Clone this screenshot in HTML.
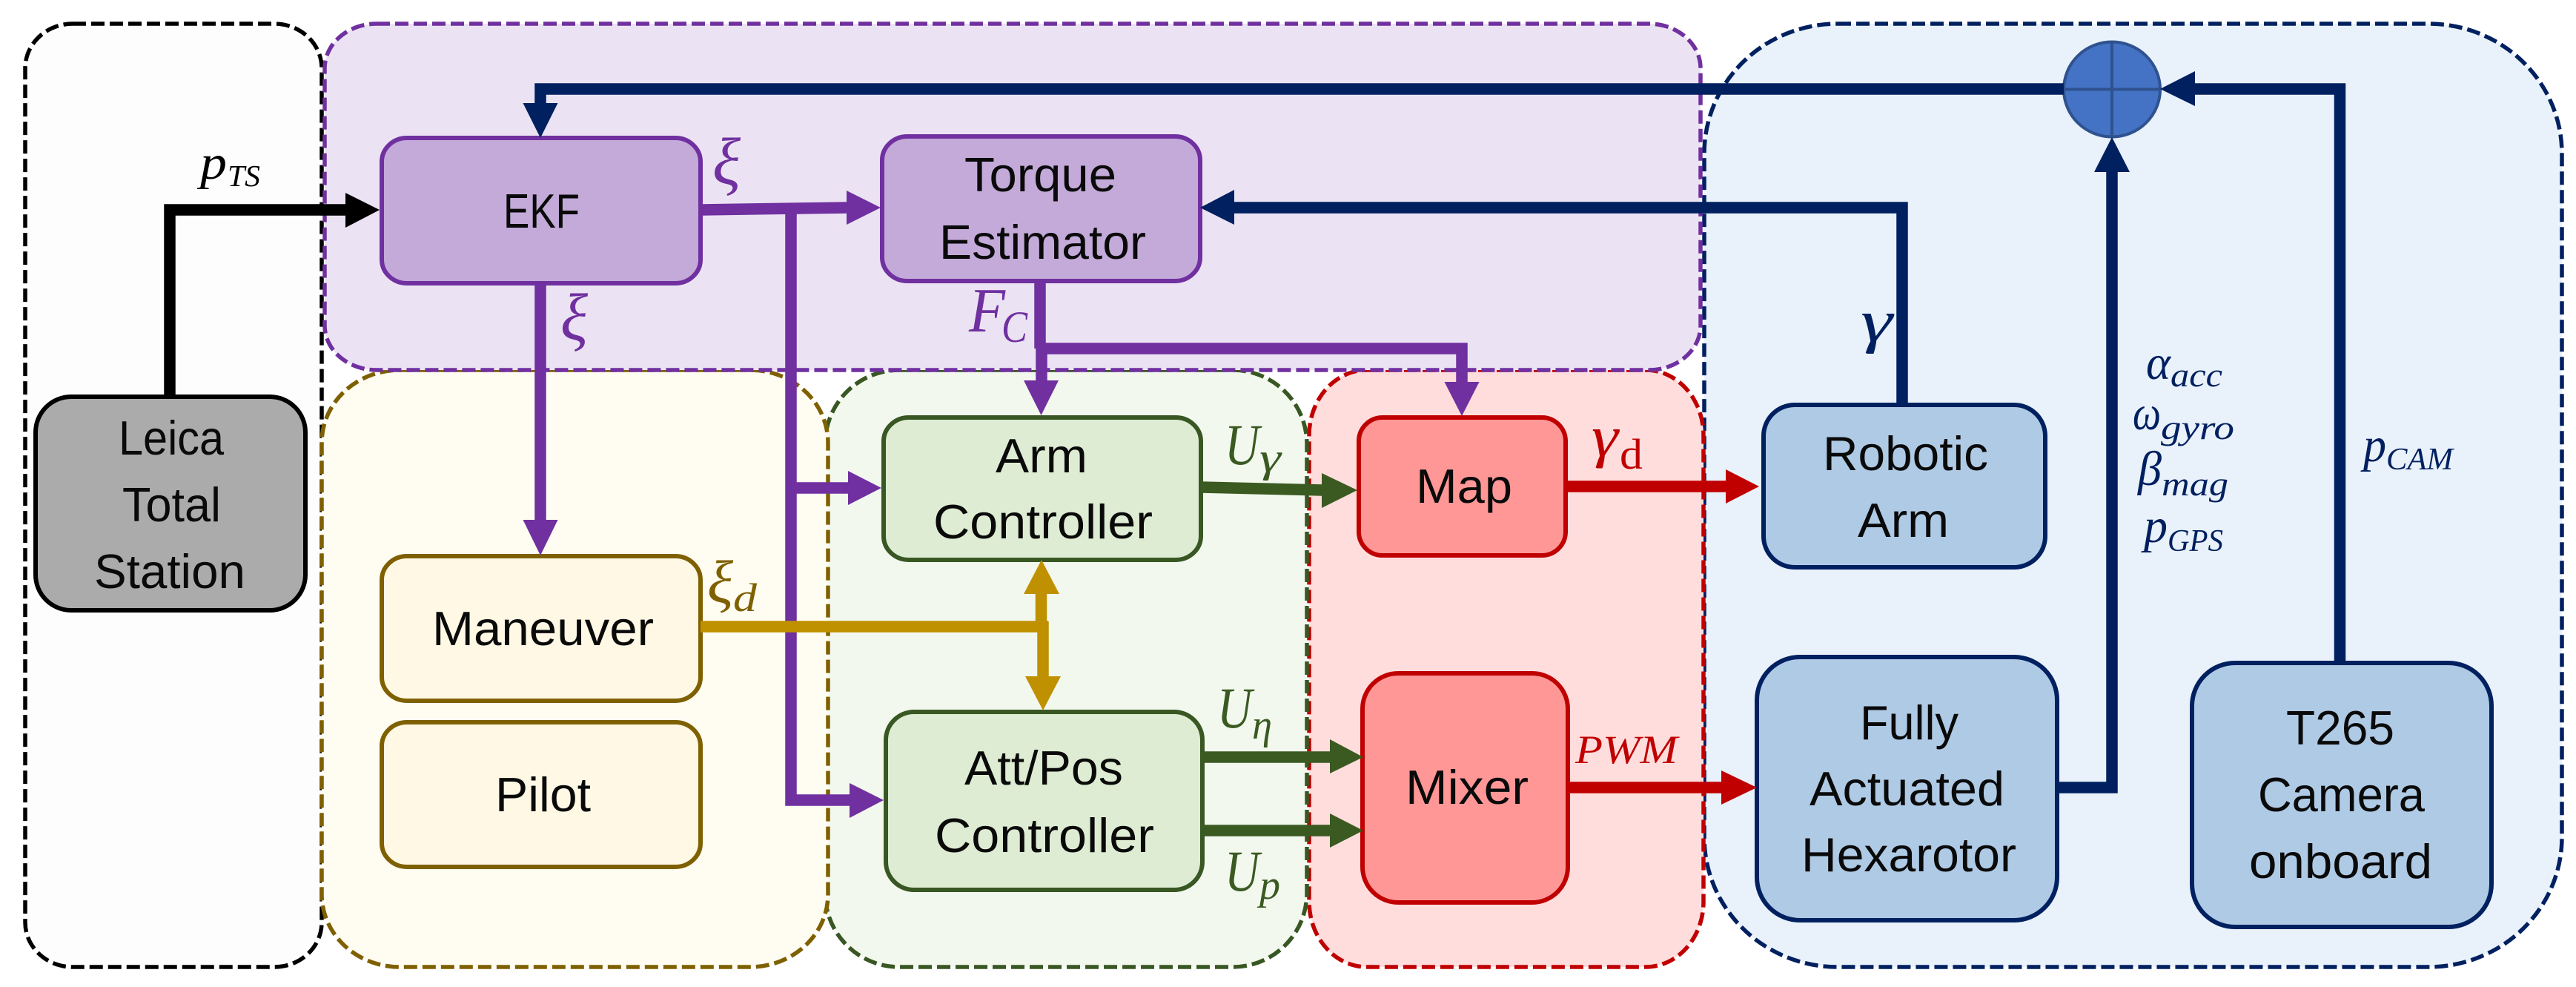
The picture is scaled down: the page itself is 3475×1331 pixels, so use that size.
<!DOCTYPE html>
<html lang="en"><head><meta charset="utf-8"><title>Control architecture diagram</title>
<style>
html,body{margin:0;padding:0;background:#fff}
svg{display:block}
.t{font-family:"Liberation Sans",sans-serif;font-size:65px;fill:#0a0a0a}
.m{font-family:"Liberation Serif",serif;font-style:italic}
.g{stroke-width:5.5;stroke-dasharray:18 7}
.b{stroke-width:6}
</style></head><body>
<svg xmlns="http://www.w3.org/2000/svg" width="3475" height="1331" viewBox="0 0 3475 1331">
<!-- groups -->
<rect class="g" x="34" y="32" width="400" height="1272" rx="64" ry="60" fill="#fdfdfd" stroke="#000"/>
<rect class="g" x="2299" y="32" width="1157" height="1272" rx="180" ry="175" fill="#e9f1fa" stroke="#002060"/>
<rect class="g" x="1766" y="499" width="532" height="805" rx="78" ry="88" fill="#ffdddd" stroke="#c00000"/>
<rect class="g" x="1113" y="499" width="650" height="805" rx="100" ry="100" fill="#f3f8ee" stroke="#385723"/>
<rect class="g" x="434" y="499" width="683" height="805" rx="105" ry="98" fill="#fffdf2" stroke="#7f6000"/>
<rect class="g" x="438" y="32" width="1856" height="467" rx="70" ry="60" fill="#ebe3f3" stroke="#7030a0"/>
<!-- boxes -->
<rect class="b" x="48" y="535" width="364" height="288" rx="48" ry="48" fill="#ababab" stroke="#000" stroke-width="7"/>
<rect class="b" x="515" y="186" width="430" height="196" rx="34" ry="32" fill="#c3aad9" stroke="#7030a0"/>
<rect class="b" x="1190" y="184" width="429" height="195" rx="34" ry="32" fill="#c3aad9" stroke="#7030a0"/>
<rect class="b" x="515" y="750" width="430" height="195" rx="34" ry="32" fill="#fff8e5" stroke="#7f6000"/>
<rect class="b" x="515" y="974" width="430" height="195" rx="34" ry="32" fill="#fff8e5" stroke="#7f6000"/>
<rect class="b" x="1192" y="563" width="428" height="192" rx="34" ry="32" fill="#ddecd3" stroke="#385723"/>
<rect class="b" x="1195" y="960" width="427" height="240" rx="38" ry="38" fill="#ddecd3" stroke="#385723"/>
<rect class="b" x="1833" y="563" width="279" height="186" rx="32" ry="32" fill="#ff9797" stroke="#c00000"/>
<rect class="b" x="1838" y="908" width="277" height="309" rx="48" ry="48" fill="#ff9797" stroke="#c00000"/>
<rect class="b" x="2379" y="546" width="380" height="219" rx="42" ry="42" fill="#afcae5" stroke="#002060"/>
<rect class="b" x="2370" y="886" width="405" height="355" rx="58" ry="58" fill="#afcae5" stroke="#002060"/>
<rect class="b" x="2957" y="894" width="404" height="356" rx="58" ry="58" fill="#afcae5" stroke="#002060"/>
<!-- summing junction -->
<ellipse cx="2849" cy="120.5" rx="65" ry="64" fill="#4472c4" stroke="#2f528f" stroke-width="4"/>
<path d="M2849 57V184M2784 120.5H2914" stroke="#2f528f" stroke-width="4" fill="none"/>
<!-- connectors -->
<g fill="none" stroke-width="15.5">
<path d="M229 535V283H468" stroke="#000"/>
<path d="M2784 120H729V140" stroke="#002060"/>
<path d="M2957 120H3156.5V894" stroke="#002060"/>
<path d="M2775 1062H2849V230" stroke="#002060"/>
<path d="M2566 546V280H1663" stroke="#002060"/>
<path d="M945 283L1144 280" stroke="#7030a0"/>
<path d="M1067 283V1079H1148" stroke="#7030a0"/>
<path d="M1067 658H1146" stroke="#7030a0"/>
<path d="M729 382V703" stroke="#7030a0"/>
<path d="M1403 379V470M1405 470V515" stroke="#7030a0"/>
<path d="M1403 470H1972V517" stroke="#7030a0"/>
<path d="M1620 657L1785 661" stroke="#3a5a22"/>
<path d="M1619 1021H1796" stroke="#3a5a22"/>
<path d="M1619 1120H1796" stroke="#3a5a22"/>
<path d="M945 845H1414" stroke="#bf9000"/>
<path d="M1404.5 845V799" stroke="#bf9000"/>
<path d="M1407 838V914" stroke="#bf9000"/>
<path d="M2112 656H2330" stroke="#c00000"/>
<path d="M2115 1062H2324" stroke="#c00000"/>
</g>
<!-- arrowheads -->
<polygon fill="#000" points="466,260 512,283 466,307" />
<polygon fill="#002060" points="705.5,139 752.5,139 729,186"/>
<polygon fill="#002060" points="2961,96 2961,143 2914,120"/>
<polygon fill="#002060" points="2825,232 2873,232 2849,185"/>
<polygon fill="#002060" points="1665,256 1665,303 1619,280"/>
<polygon fill="#7030a0" points="1142,257 1142,303 1188,280"/>
<polygon fill="#7030a0" points="1144,635 1144,681 1189,658"/>
<polygon fill="#7030a0" points="1146,1056 1146,1103 1192,1079"/>
<polygon fill="#7030a0" points="705.5,701 752.5,701 729,749"/>
<polygon fill="#7030a0" points="1381,513 1428,513 1404.5,560"/>
<polygon fill="#7030a0" points="1948.5,515 1995.5,515 1972,561"/>
<polygon fill="#3a5a22" points="1783,638 1783,685 1831,661"/>
<polygon fill="#3a5a22" points="1794,997 1794,1043 1839,1021"/>
<polygon fill="#3a5a22" points="1794,1097 1794,1143 1839,1120"/>
<polygon fill="#bf9000" points="1381,801 1429,801 1405,755"/>
<polygon fill="#bf9000" points="1383,912 1431,912 1407,958"/>
<polygon fill="#c00000" points="2328,633 2328,679 2373,656"/>
<polygon fill="#c00000" points="2322,1039 2322,1085 2370,1062"/>
<!-- box labels -->
<text class="t" x="679" y="307" textLength="103" lengthAdjust="spacingAndGlyphs">EKF</text>
<text class="t" x="160" y="613" textLength="142" lengthAdjust="spacingAndGlyphs">Leica</text>
<text class="t" x="165" y="703" textLength="133" lengthAdjust="spacingAndGlyphs">Total</text>
<text class="t" x="127" y="793" textLength="204" lengthAdjust="spacingAndGlyphs">Station</text>
<text class="t" x="1301" y="258" textLength="205" lengthAdjust="spacingAndGlyphs">Torque</text>
<text class="t" x="1267" y="349" textLength="279" lengthAdjust="spacingAndGlyphs">Estimator</text>
<text class="t" x="1343" y="637" textLength="124" lengthAdjust="spacingAndGlyphs">Arm</text>
<text class="t" x="1259" y="726" textLength="296" lengthAdjust="spacingAndGlyphs">Controller</text>
<text class="t" x="1910" y="678" textLength="130" lengthAdjust="spacingAndGlyphs">Map</text>
<text class="t" x="1301" y="1058" textLength="214" lengthAdjust="spacingAndGlyphs">Att/Pos</text>
<text class="t" x="1261" y="1149" textLength="296" lengthAdjust="spacingAndGlyphs">Controller</text>
<text class="t" x="1896" y="1084" textLength="166" lengthAdjust="spacingAndGlyphs">Mixer</text>
<text class="t" x="583" y="870" textLength="299" lengthAdjust="spacingAndGlyphs">Maneuver</text>
<text class="t" x="668" y="1094" textLength="129" lengthAdjust="spacingAndGlyphs">Pilot</text>
<text class="t" x="2459" y="634" textLength="223" lengthAdjust="spacingAndGlyphs">Robotic</text>
<text class="t" x="2506" y="724" textLength="123" lengthAdjust="spacingAndGlyphs">Arm</text>
<text class="t" x="2509" y="997" textLength="133" lengthAdjust="spacingAndGlyphs">Fully</text>
<text class="t" x="2441" y="1086" textLength="263" lengthAdjust="spacingAndGlyphs">Actuated</text>
<text class="t" x="2430" y="1175" textLength="290" lengthAdjust="spacingAndGlyphs">Hexarotor</text>
<text class="t" x="3084" y="1004" textLength="146" lengthAdjust="spacingAndGlyphs">T265</text>
<text class="t" x="3046" y="1094" textLength="225" lengthAdjust="spacingAndGlyphs">Camera</text>
<text class="t" x="3034" y="1184" textLength="247" lengthAdjust="spacingAndGlyphs">onboard</text>
<!-- math labels -->
<g class="m">
<text x="270" y="241" font-size="66" fill="#000" textLength="36" lengthAdjust="spacingAndGlyphs">p</text>
<text x="307" y="251" font-size="41" fill="#000" textLength="44" lengthAdjust="spacingAndGlyphs">TS</text>
<text x="961" y="248" font-size="90" fill="#7030a0" textLength="38" lengthAdjust="spacingAndGlyphs">ξ</text>
<text x="756" y="458" font-size="90" fill="#7030a0" textLength="37" lengthAdjust="spacingAndGlyphs">ξ</text>
<text x="954" y="812" font-size="82" fill="#7f6000" textLength="35" lengthAdjust="spacingAndGlyphs">ξ</text>
<text x="989" y="824" font-size="54" fill="#7f6000" textLength="32" lengthAdjust="spacingAndGlyphs">d</text>
<text x="1307" y="447" font-size="85" fill="#7030a0" textLength="49" lengthAdjust="spacingAndGlyphs">F</text>
<text x="1351" y="461" font-size="60" fill="#7030a0" textLength="35" lengthAdjust="spacingAndGlyphs">C</text>
<text x="1652" y="626" font-size="78" fill="#3a5a22" textLength="47" lengthAdjust="spacingAndGlyphs">U</text>
<text x="1699" y="636" font-size="56" fill="#3a5a22" textLength="29" lengthAdjust="spacingAndGlyphs">γ</text>
<text x="1642" y="981" font-size="78" fill="#3a5a22" textLength="47" lengthAdjust="spacingAndGlyphs">U</text>
<text x="1689" y="996" font-size="56" fill="#3a5a22" textLength="27" lengthAdjust="spacingAndGlyphs">η</text>
<text x="1652" y="1201" font-size="78" fill="#3a5a22" textLength="47" lengthAdjust="spacingAndGlyphs">U</text>
<text x="1699" y="1212" font-size="56" fill="#3a5a22" textLength="28" lengthAdjust="spacingAndGlyphs">p</text>
<text x="2147" y="615" font-size="78" fill="#c00000" textLength="36" lengthAdjust="spacingAndGlyphs">γ</text>
<text x="2185" y="632" font-size="58" fill="#c00000" style="font-style:normal" textLength="31" lengthAdjust="spacingAndGlyphs">d</text>
<text x="2125" y="1029" font-size="54" fill="#c00000" textLength="138" lengthAdjust="spacingAndGlyphs">PWM</text>
<text x="2510" y="460" font-size="80" fill="#002060" textLength="43" lengthAdjust="spacingAndGlyphs">γ</text>
<text x="2895" y="511" font-size="66" fill="#002060" textLength="33" lengthAdjust="spacingAndGlyphs">α</text>
<text x="2928" y="521" font-size="46" fill="#002060" textLength="70" lengthAdjust="spacingAndGlyphs">acc</text>
<text x="2877" y="579" font-size="66" fill="#002060" textLength="38" lengthAdjust="spacingAndGlyphs">ω</text>
<text x="2915" y="592" font-size="46" fill="#002060" textLength="99" lengthAdjust="spacingAndGlyphs">gyro</text>
<text x="2884" y="654" font-size="66" fill="#002060" textLength="32" lengthAdjust="spacingAndGlyphs">β</text>
<text x="2916" y="668" font-size="46" fill="#002060" textLength="90" lengthAdjust="spacingAndGlyphs">mag</text>
<text x="2892" y="731" font-size="66" fill="#002060" textLength="32" lengthAdjust="spacingAndGlyphs">p</text>
<text x="2924" y="743" font-size="42" fill="#002060" textLength="75" lengthAdjust="spacingAndGlyphs">GPS</text>
<text x="3188" y="622" font-size="66" fill="#002060" textLength="31" lengthAdjust="spacingAndGlyphs">p</text>
<text x="3219" y="633" font-size="42" fill="#002060" textLength="90" lengthAdjust="spacingAndGlyphs">CAM</text>
</g>
</svg>
</body></html>
